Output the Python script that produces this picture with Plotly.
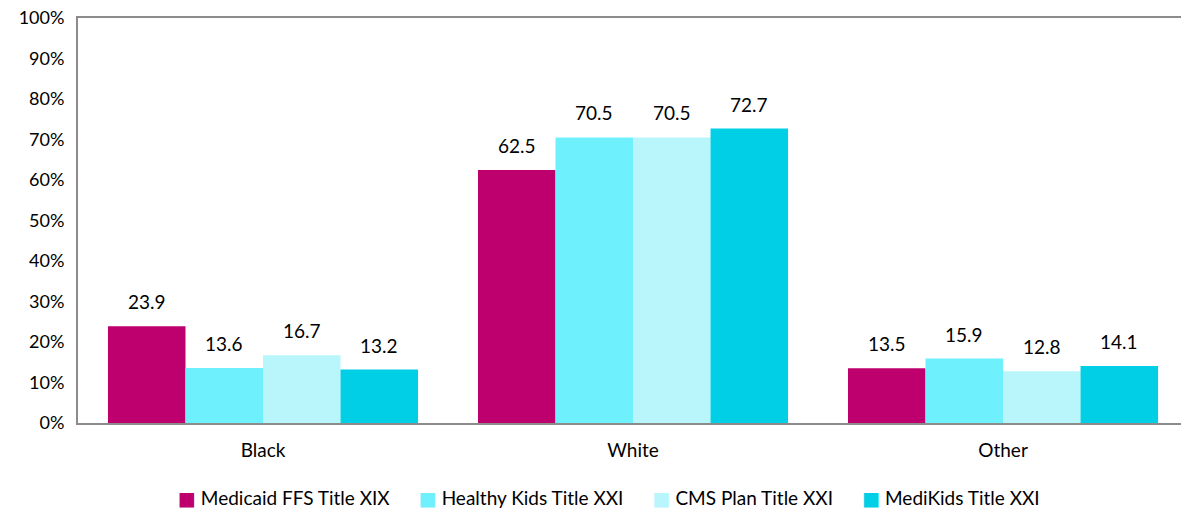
import plotly.graph_objects as go

categories = ["Black", "White", "Other"]
series_names = ["Medicaid FFS Title XIX", "Healthy Kids Title XXI", "CMS Plan Title XXI", "MediKids Title XXI"]
medicaid_ffs = [23.9, 62.5, 13.5]
healthy_kids = [13.6, 70.5, 15.9]
cms_plan = [16.7, 70.5, 12.8]
medikids = [13.2, 72.7, 14.1]
y_ticks = [0, 10, 20, 30, 40, 50, 60, 70, 80, 90, 100]

colors = ["#BE006E", "#6EF1FC", "#B9F6FC", "#00CFE5"]
series_values = [medicaid_ffs, healthy_kids, cms_plan, medikids]

FONT = "Lato, 'Open Sans', sans-serif"

fig = go.Figure()
for name, vals, col in zip(series_names, series_values, colors):
    fig.add_trace(go.Bar(
        name=name, x=categories, y=vals, marker=dict(color=col, line=dict(width=0)),
        offsetgroup=name,
    ))

# value labels above each bar
n = len(series_names)
group_width = 1 - 0.162
bar_w = group_width / n
for i, vals in enumerate(series_values):
    for j, v in enumerate(vals):
        xpos = j - group_width / 2 + bar_w * (i + 0.5)
        fig.add_annotation(
            x=xpos, y=v, xref="x", yref="y", text=f"{v:.1f}", showarrow=False,
            yanchor="bottom", yshift=11, font=dict(family=FONT, size=19, color="#000000"),
        )

# compact legend line: coloured square glyph followed by the series name
gap = "&nbsp;" * 6
legend_text = gap.join(
    f"<span style='color:{c};font-family:DejaVu Sans'>■</span> {name}"
    for name, c in zip(series_names, colors)
)
fig.add_annotation(
    x=0.481, y=-0.183, xref="paper", yref="paper", text=legend_text, showarrow=False,
    xanchor="center", yanchor="middle", font=dict(family=FONT, size=19, color="#000000"),
)

fig.update_layout(
    width=1181, height=510,
    margin=dict(l=78, r=0, t=18, b=87, autoexpand=False),
    paper_bgcolor="white", plot_bgcolor="white",
    barmode="group", bargap=0.162, bargroupgap=0,
    font=dict(family=FONT, size=18, color="#000000"),
    showlegend=False,
)
fig.update_xaxes(
    type="category", range=[-0.5, 2.481],
    showline=True, linecolor="#8C8C8C", linewidth=2, mirror=True,
    showgrid=False, ticks="", tickfont=dict(family=FONT, size=19), ticklabelstandoff=9,
)
fig.update_yaxes(
    range=[0, 100], tickvals=y_ticks, ticktext=[f"{t}%" for t in y_ticks],
    showline=True, linecolor="#8C8C8C", linewidth=2,
    showgrid=False, zeroline=False, ticks="", tickfont=dict(family=FONT, size=18),
    ticklabelstandoff=8,
)

fig.write_html("out.html")
